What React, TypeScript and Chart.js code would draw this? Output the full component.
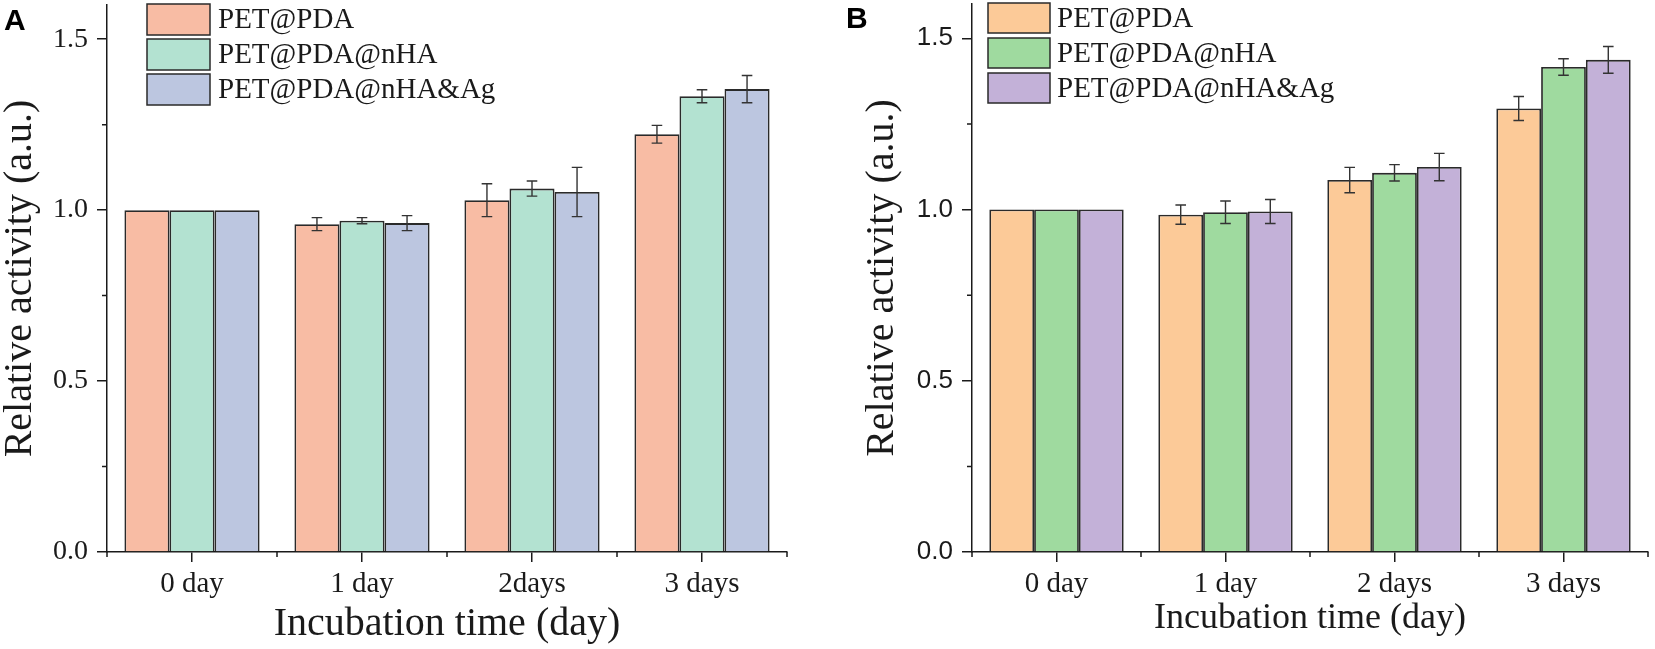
import React, { useEffect, useRef } from 'react';
import { Chart, registerables } from 'chart.js';

Chart.register(...registerables);

// ---------------- data ----------------
const categoriesA = ['0 day', '1 day', '2days', '3 days'];
const categoriesB = ['0 day', '1 day', '2 days', '3 days'];
const seriesNames = ['PET@PDA', 'PET@PDA@nHA', 'PET@PDA@nHA&Ag'];

const aPDA = [1.0, 0.959, 1.029, 1.222];
const aPDAnHA = [1.0, 0.969, 1.063, 1.333];
const aPDAnHAAg = [1.0, 0.962, 1.053, 1.354];
const aPDAErr = [0, 0.019, 0.048, 0.026];
const aPDAnHAErr = [0, 0.009, 0.022, 0.019];
const aPDAnHAAgErr = [0, 0.022, 0.072, 0.04];

const bPDA = [1.0, 0.985, 1.086, 1.295];
const bPDAnHA = [1.0, 0.992, 1.107, 1.416];
const bPDAnHAAg = [1.0, 0.994, 1.124, 1.437];
const bPDAErr = [0, 0.028, 0.037, 0.035];
const bPDAnHAErr = [0, 0.033, 0.024, 0.024];
const bPDAnHAAgErr = [0, 0.035, 0.04, 0.039];

const yMajorTicks = [0, 0.5, 1.0, 1.5];
const yMinorTicks = [0.25, 0.75, 1.25];
const yMin = 0;
const yMax = 1.6;

const colorsA = ['#F8BCA4', '#B3E2D1', '#BCC6E0'];
const colorsB = ['#FCCA98', '#9FDA9F', '#C3B1D8'];

// ---------------- styling ----------------
const H = 649;
const SERIF = "'Liberation Serif', 'Times New Roman', serif";
const SANS = "'Liberation Sans', Arial, sans-serif";
const INK = '#1a1a1a';

const errorBarsPlugin = {
  id: 'errorBars',
  afterDatasetsDraw(chart: any, _a: any, opts: any) {
    const errs = opts.errors;
    if (!errs) return;
    const ctx = chart.ctx;
    const y = chart.scales.y;
    const cap = opts.cap;
    ctx.save();
    ctx.strokeStyle = opts.color;
    ctx.lineWidth = opts.lineWidth;
    chart.data.datasets.forEach((ds: any, di: number) => {
      const meta = chart.getDatasetMeta(di);
      meta.data.forEach((bar: any, i: number) => {
        const e = errs[di][i];
        if (!e) return;
        const v = ds.data[i];
        const x = bar.x;
        const y1 = y.getPixelForValue(v + e);
        const y2 = y.getPixelForValue(v - e);
        ctx.beginPath();
        ctx.moveTo(x, y1);
        ctx.lineTo(x, y2);
        ctx.moveTo(x - cap, y1);
        ctx.lineTo(x + cap, y1);
        ctx.moveTo(x - cap, y2);
        ctx.lineTo(x + cap, y2);
        ctx.stroke();
      });
    });
    ctx.restore();
  },
};

const minorTicksPlugin = {
  id: 'minorTicks',
  afterDraw(chart: any, _a: any, opts: any) {
    const { ctx, chartArea, scales } = chart;
    const x = scales.x;
    const y = scales.y;
    ctx.save();
    ctx.strokeStyle = opts.color;
    ctx.lineWidth = opts.lineWidth;
    ctx.beginPath();
    (opts.yMinor || []).forEach((v: number) => {
      const py = y.getPixelForValue(v);
      ctx.moveTo(chartArea.left, py);
      ctx.lineTo(chartArea.left - opts.len, py);
    });
    const n = chart.data.labels.length;
    for (let i = 0; i <= n; i++) {
      const px = x.getPixelForValue(i - 0.5);
      ctx.moveTo(px, chartArea.bottom);
      ctx.lineTo(px, chartArea.bottom + opts.len);
    }
    ctx.stroke();
    ctx.restore();
  },
};

const boxLegendPlugin = {
  id: 'boxLegend',
  afterDraw(chart: any, _a: any, opts: any) {
    const { ctx, chartArea } = chart;
    ctx.save();
    ctx.font = opts.font;
    ctx.textBaseline = 'middle';
    ctx.textAlign = 'left';
    chart.data.datasets.forEach((ds: any, i: number) => {
      const bx = chartArea.left + opts.dx;
      const by = opts.y0 + i * opts.pitch;
      ctx.fillStyle = ds.backgroundColor;
      ctx.fillRect(bx, by, opts.boxW, opts.boxH);
      ctx.strokeStyle = opts.border;
      ctx.lineWidth = 1.5;
      ctx.strokeRect(bx, by, opts.boxW, opts.boxH);
      ctx.fillStyle = INK;
      ctx.fillText(ds.label, bx + opts.boxW + opts.textGap, by + opts.boxH / 2 + 1);
    });
    ctx.restore();
  },
};

const panelLabelPlugin = {
  id: 'panelLabel',
  afterDraw(chart: any, _a: any, opts: any) {
    const ctx = chart.ctx;
    ctx.save();
    ctx.font = opts.font;
    ctx.fillStyle = '#000';
    ctx.textBaseline = 'alphabetic';
    ctx.textAlign = 'left';
    ctx.fillText(opts.text, opts.x, opts.y);
    ctx.restore();
  },
};

function makeConfig(p: any) {
  const datasets = seriesNames.map((name, i) => ({
    label: name,
    data: p.values[i],
    backgroundColor: p.colors[i],
    borderColor: '#2a2a2a',
    borderWidth: 1.8,
    categoryPercentage: 0.795,
    barPercentage: 1.0,
  }));
  return {
    type: 'bar',
    data: { labels: p.labels, datasets },
    plugins: [errorBarsPlugin, minorTicksPlugin, boxLegendPlugin, panelLabelPlugin],
    options: {
      responsive: false,
      animation: false,
      devicePixelRatio: 1,
      events: [],
      layout: { padding: { left: p.padLeft, top: p.padTop, right: p.padRight, bottom: 0 } },
      plugins: {
        legend: { display: false },
        tooltip: { enabled: false },
        errorBars: { errors: p.errors, color: '#333', lineWidth: 1.4, cap: 5.3 },
        minorTicks: { yMinor: yMinorTicks, color: INK, lineWidth: 1.5, len: 5 },
        boxLegend: {
          dx: p.legendDx, y0: p.legendY0, pitch: 35, boxW: p.boxW, boxH: p.boxH, textGap: p.textGap,
          font: `29px ${SERIF}`, border: '#2a2a2a',
        },
        panelLabel: { text: p.panel, x: p.panelX, y: p.panelY, font: `bold 30px ${SANS}` },
      },
      scales: {
        x: {
          type: 'category',
          offset: true,
          grid: {
            display: true, drawOnChartArea: false, drawTicks: true, offset: false,
            tickLength: 10, tickWidth: 1.5, tickColor: INK, color: INK, lineWidth: 1.5,
          },
          border: { display: true, color: INK, width: 1.5 },
          ticks: { font: { family: SERIF, size: 29 }, color: INK, padding: 5, maxRotation: 0, autoSkip: false },
          title: {
            display: true, text: 'Incubation time (day)', color: INK,
            font: { family: SERIF, size: p.xTitleSize, lineHeight: 1 },
            padding: { top: 0, bottom: p.xTitlePad },
          },
          afterFit(s: any) {
            s.height = H - p.bottom;
            s.paddingLeft = 0;
            s.paddingRight = 0;
          },
        },
        y: {
          type: 'linear',
          min: yMin,
          max: yMax,
          afterBuildTicks(s: any) {
            s.ticks = yMajorTicks.map((v) => ({ value: v }));
          },
          grid: {
            display: true, drawOnChartArea: false, drawTicks: true,
            tickLength: 10, tickWidth: 1.5, tickColor: INK, color: INK, lineWidth: 1.5,
          },
          border: { display: true, color: INK, width: 1.5 },
          ticks: {
            font: { family: p.yTickFont, size: p.yTickSize }, color: INK, padding: p.yTickPad,
            callback: (v: number) => Number(v).toFixed(1),
          },
          title: {
            display: true, text: 'Relative activity (a.u.)', color: INK,
            font: { family: SERIF, size: 40, lineHeight: 1 },
            padding: { top: 0, bottom: 0 },
          },
          afterFit(s: any) {
            s.width = p.yWidth;
            s.paddingTop = 0;
            s.paddingBottom = 0;
          },
        },
      },
    },
  };
}

function Panel({ config, left, width }: { config: any; left: number; width: number }) {
  const ref = useRef<HTMLCanvasElement | null>(null);
  useEffect(() => {
    if (!ref.current) return;
    const chart = new Chart(ref.current, config);
    return () => chart.destroy();
  }, []);
  return (
    <canvas
      ref={ref}
      width={width}
      height={H}
      style={{ position: 'absolute', left, top: 0, width, height: H, display: 'block' }}
    />
  );
}

const configA = makeConfig({
  labels: categoriesA,
  values: [aPDA, aPDAnHA, aPDAnHAAg],
  errors: [aPDAErr, aPDAnHAErr, aPDAnHAAgErr],
  colors: colorsA,
  padLeft: 0, padTop: 5, padRight: 33, bottom: 552,
  yWidth: 107, yTickFont: SERIF, yTickSize: 28, yTickPad: 9,
  xTitleSize: 40, xTitlePad: 5,
  legendDx: 40, legendY0: 4, boxW: 63, boxH: 31, textGap: 8,
  panel: 'A', panelX: 4, panelY: 30,
});

const configB = makeConfig({
  labels: categoriesB,
  values: [bPDA, bPDAnHA, bPDAnHAAg],
  errors: [bPDAErr, bPDAnHAErr, bPDAnHAAgErr],
  colors: colorsB,
  padLeft: 42, padTop: 4, padRight: 7, bottom: 552,
  yWidth: 110, yTickFont: SANS, yTickSize: 26, yTickPad: 9,
  xTitleSize: 36, xTitlePad: 12,
  legendDx: 16, legendY0: 3, boxW: 62, boxH: 30, textGap: 7,
  panel: 'B', panelX: 26, panelY: 28,
});

export default function App() {
  return (
    <div style={{ position: 'absolute', left: 0, top: 0, width: 1655, height: H, background: '#fff', overflow: 'hidden' }}>
      <Panel config={configA} left={0} width={820} />
      <Panel config={configB} left={820} width={835} />
    </div>
  );
}
